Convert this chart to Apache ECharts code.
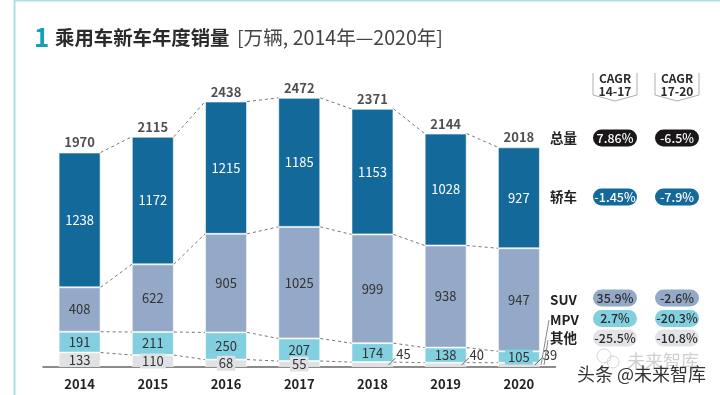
<!DOCTYPE html>
<html>
<head>
<meta charset="utf-8">
<style>
  html, body { margin: 0; padding: 0; background: #fff; }
  #main { width: 720px; height: 395px; }
</style>
<script src="https://cdn.jsdelivr.net/npm/echarts@6/dist/echarts.min.js"></script>
</head>
<body>
<div id="main"></div>
<script>
var years = ['2014', '2015', '2016', '2017', '2018', '2019', '2020']
var totals = [1970, 2115, 2438, 2472, 2371, 2144, 2018]
var cars = [1238, 1172, 1215, 1185, 1153, 1028, 927]
var suvs = [408, 622, 905, 1025, 999, 938, 947]
var mpvs = [191, 211, 250, 207, 174, 138, 105]
var others = [133, 110, 68, 55, 45, 40, 39]

var rowNames = ['总量', '轿车', 'SUV', 'MPV', '其他']
var cagr1417 = ['7.86%', '-1.45%', '35.9%', '2.7%', '-25.5%']
var cagr1720 = ['-6.5%', '-7.9%', '-2.6%', '-20.3%', '-10.8%']

var font = '"Noto Sans CJK SC", "Noto Sans", sans-serif'
var textDark = '#2b2b2b'
var carColor = '#14699b', suvColor = '#94a9c7', mpvColor = '#82cfe0', otherColor = '#e0e1e5'
var barWidth = 42
var labelSize = 13

// tops of each layer, the dashed lines run between these
var otherTops = others
var mpvTops = others.map(function (v, i) { return v + mpvs[i] })
var suvTops = mpvTops.map(function (v, i) { return v + suvs[i] })
var levels = [totals, suvTops, mpvTops, otherTops]

function otherItem(v, i) {
  // the last three are too thin, their label sits outside with a short leader
  if (i >= 4) {
    return { value: v, label: { offset: [31, -10] } }
  }
  if (i >= 1) {
    return { value: v, label: { backgroundColor: otherColor, padding: [1, 2] } }
  }
  return v
}

function mpvItem(v, i) {
  if (i == 6) {
    return { value: v, label: { backgroundColor: mpvColor, padding: [1, 3] } }
  }
  return v
}

function barSeries(name, values, color, labelColor) {
  return {
    name: name,
    type: 'bar',
    stack: 'sales',
    barWidth: barWidth,
    data: values,
    itemStyle: { color: color, borderColor: 'rgba(255,255,255,0.55)', borderWidth: 1 },
    label: { show: true, position: 'inside', color: labelColor, fontSize: labelSize, fontFamily: font }
  }
}

function renderConnectors(params, api) {
  var i = api.value(0)
  var lines = levels.map(function (lv) {
    var a = api.coord([i, lv[i]])
    var b = api.coord([i + 1, lv[i + 1]])
    return {
      type: 'line',
      shape: { x1: a[0] + barWidth / 2, y1: a[1], x2: b[0] - barWidth / 2, y2: b[1] },
      style: { stroke: '#777', lineWidth: 1, lineDash: [3, 3] }
    }
  })
  return { type: 'group', children: lines }
}

function renderLeader(params, api) {
  var p = api.coord([api.value(0), 0])
  return {
    type: 'line',
    shape: { x1: p[0] + 16, y1: p[1] - 2, x2: p[0] + 23, y2: p[1] - 9 },
    style: { stroke: '#666', lineWidth: 1 }
  }
}

// right hand side, header shapes and pills
var graphics = []

function addText(x, y, text, size, weight, color, align) {
  graphics.push({
    type: 'text', x: x, y: y, z: 10,
    style: {
      text: text, fontSize: size, fontWeight: weight, fill: color, fontFamily: font,
      textAlign: align || 'left', textVerticalAlign: 'middle'
    }
  })
}

function addLine(x1, y1, x2, y2, color, width) {
  graphics.push({
    type: 'line', z: 5,
    shape: { x1: x1, y1: y1, x2: x2, y2: y2 },
    style: { stroke: color, lineWidth: width }
  })
}

// frame
addLine(14.5, 0, 14.5, 395, '#a9dfe9', 2)
addLine(14, 0.5, 720, 0.5, '#a9dfe9', 2)

// title
addText(34, 37, '1', 26, 'bold', '#169fb8')
addText(55, 38, '乘用车新车年度销量', 19.4, 'bold', '#2a2a2a')
addText(237, 38, '[万辆, 2014年—2020年]', 19.6, 'normal', '#444')

var colX = [615, 677]
var headers = ['14-17', '17-20']
colX.forEach(function (x, c) {
  graphics.push({
    type: 'polyline', z: 5,
    shape: { points: [[x - 22, 73], [x - 22, 95], [x, 101], [x + 22, 95], [x + 22, 73]] },
    style: { stroke: '#a9afb7', fill: 'none', lineWidth: 1 }
  })
  addText(x, 78.5, 'CAGR', 12, 'bold', textDark, 'center')
  addText(x, 91, headers[c], 12, 'bold', textDark, 'center')
})

var rowY = [138, 197, 298, 318.5, 338]
var rowLabelY = [138, 197, 300, 320, 338]
var pillFill = ['#1a1718', carColor, suvColor, mpvColor, '#e2e3e7']
var pillText = ['#fff', '#fff', textDark, textDark, textDark]
rowNames.forEach(function (name, r) {
  addText(550, rowLabelY[r], name, 13.5, 'bold', '#222')
  var vals = [cagr1417[r], cagr1720[r]]
  colX.forEach(function (x, c) {
    graphics.push({
      type: 'rect', z: 6,
      shape: { x: x - 22, y: rowY[r] - 8.5, width: 44, height: 17, r: 8.5 },
      style: { fill: pillFill[r] }
    })
    addText(x, rowY[r], vals[c], 12.5, 500, pillText[r], 'center')
  })
})

// long leaders for MPV and 其他, plus the watermark
addLine(549, 320, 541, 365, '#888', 1)
addLine(548, 340, 544, 365, '#888', 1)

graphics.push({
  type: 'circle', z: 3, shape: { cx: 604, cy: 356, r: 7 },
  style: { stroke: '#d5d5d5', fill: 'none', lineWidth: 1 }
})
graphics.push({
  type: 'circle', z: 3, shape: { cx: 613, cy: 362, r: 6 },
  style: { stroke: '#d5d5d5', fill: 'none', lineWidth: 1 }
})
addText(627, 361, '未来智库', 18, 'normal', '#cfcfcf')
addText(577, 374, '头条 @未来智库', 18, 'normal', '#333')

var option = {
  animation: false,
  backgroundColor: '#fff',
  grid: { left: 43, right: 164.5, top: 97, bottom: 28 },
  xAxis: {
    type: 'category',
    data: years,
    axisTick: { show: false },
    axisLine: { lineStyle: { color: '#666', width: 1.5 } },
    axisLabel: { color: '#222', fontWeight: 'bold', fontSize: 13, fontFamily: font, margin: 11 }
  },
  yAxis: { type: 'value', min: 0, max: 2480, show: false },
  graphic: graphics,
  series: [
    {
      name: '其他', type: 'bar', stack: 'sales', barWidth: barWidth,
      data: others.map(otherItem),
      itemStyle: { color: otherColor, borderColor: 'rgba(255,255,255,0.55)', borderWidth: 1 },
      label: { show: true, position: 'inside', color: '#333', fontSize: labelSize, fontFamily: font }
    },
    barSeries('MPV', mpvs.map(mpvItem), mpvColor, '#333'),
    barSeries('SUV', suvs, suvColor, '#333'),
    barSeries('轿车', cars, carColor, '#fff'),
    {
      name: '总量',
      type: 'scatter',
      symbolSize: 1,
      data: totals,
      itemStyle: { color: 'transparent' },
      label: {
        show: true, position: 'top', distance: 3, color: '#222',
        fontWeight: 'bold', fontSize: 13, fontFamily: font
      }
    },
    {
      type: 'custom',
      renderItem: renderConnectors,
      data: years.slice(0, 6).map(function (y, i) { return [i, totals[i]] }),
      silent: true, z: 4
    },
    {
      type: 'custom',
      renderItem: renderLeader,
      data: [[4, others[4]], [5, others[5]], [6, others[6]]],
      silent: true, z: 4
    }
  ]
}

var chart = echarts.init(document.getElementById('main'))
chart.setOption(option)
</script>
</body>
</html>
